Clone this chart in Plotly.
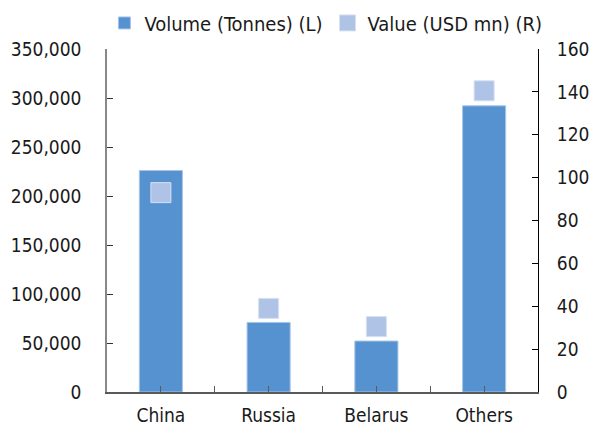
import plotly.graph_objects as go

categories = ["China", "Russia", "Belarus", "Others"]
volume_tonnes = [226000, 71000, 52000, 292000]
value_usd_mn = [93, 39, 30.5, 140.5]

FONT = "DejaVu Sans Condensed"

x = list(range(len(categories)))
tickvals = []
ticktext = []
for i, c in zip(x, categories):
    tickvals += [i - 0.5, i]
    ticktext += ["", c]
tickvals.append(x[-1] + 0.5)
ticktext.append("")

fig = go.Figure()
fig.add_trace(go.Bar(
    x=x, y=volume_tonnes, name="Volume (Tonnes) (L)",
    marker=dict(color="#5592CF", line=dict(color="#A8C5EA", width=1)),
    width=0.4,
))
fig.add_trace(go.Scatter(
    x=x, y=value_usd_mn, name="Value (USD mn) (R)", yaxis="y2",
    mode="markers",
    marker=dict(symbol="square", size=20, color="#AFC3E6",
                line=dict(color="#D6E0F2", width=1)),
))

fig.update_layout(
    width=590, height=427,
    margin=dict(l=107, r=52, t=49, b=35, autoexpand=False),
    plot_bgcolor="white", paper_bgcolor="white",
    font=dict(family=FONT, size=19, color="#1a1a1a"),
    showlegend=True,
    legend=dict(orientation="h", x=-0.006, xanchor="left",
                y=1.076, yanchor="middle",
                font=dict(size=20), itemwidth=30, tracegroupgap=0,
                bgcolor="rgba(0,0,0,0)"),
    xaxis=dict(range=[-0.5, len(categories) - 0.5], tickvals=tickvals, ticktext=ticktext,
               ticks="inside", ticklen=6, tickcolor="#595959",
               showline=True, linecolor="#595959", linewidth=1.5,
               showgrid=False, zeroline=False, ticklabelstandoff=5),
    yaxis=dict(range=[0, 350000], dtick=50000, tickformat=",",
               ticks="inside", ticklen=6, tickcolor="#333333",
               showline=True, linecolor="#888888", linewidth=1.5,
               showgrid=False, zeroline=False, ticklabelstandoff=20),
    yaxis2=dict(range=[0, 160], dtick=20, overlaying="y", side="right",
                ticks="inside", ticklen=6, tickcolor="#000000",
                showline=True, linecolor="#000000", linewidth=1,
                showgrid=False, zeroline=False, ticklabelstandoff=14),
)

fig.write_html("out.html", config={"displayModeBar": False},
               post_script="document.body.style.margin='0';")
